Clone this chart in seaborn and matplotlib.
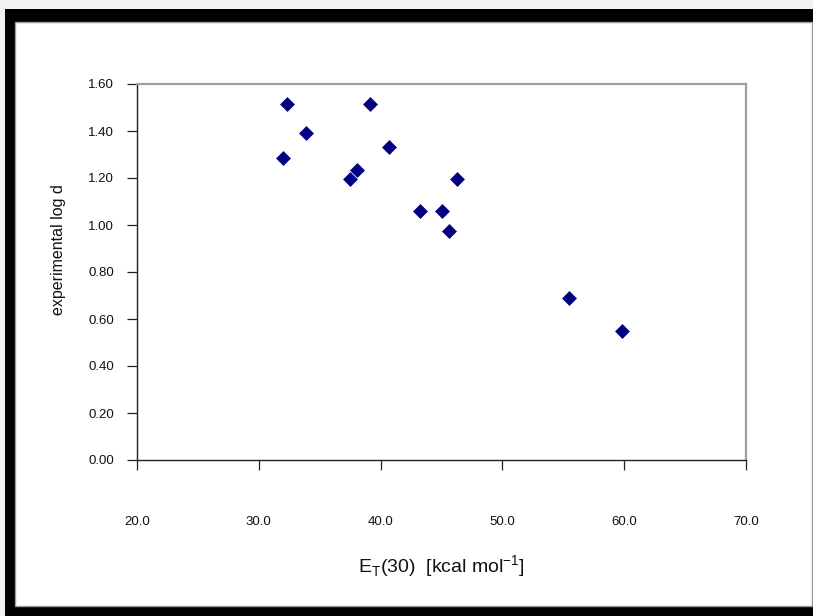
import matplotlib
matplotlib.use("Agg")
import matplotlib.pyplot as plt
import matplotlib.patches as mpatches
from matplotlib.ticker import FormatStrFormatter
import seaborn as sns
import pandas as pd

# data
et30 = [32.3, 39.15, 33.9, 32.0, 40.7, 38.05, 37.45, 46.3, 43.2, 45.05, 45.6, 55.5, 59.8]
logd = [1.515, 1.515, 1.39, 1.285, 1.33, 1.235, 1.195, 1.195, 1.06, 1.06, 0.975, 0.69, 0.55]
x_ticks = [20.0, 30.0, 40.0, 50.0, 60.0, 70.0]
y_ticks = [0.0, 0.2, 0.4, 0.6, 0.8, 1.0, 1.2, 1.4, 1.6]

sns.set_style("white")
plt.rcParams['font.family'] = ['Liberation Sans', 'DejaVu Sans']

W, H = 813, 616
fig = plt.figure(figsize=(W / 100, H / 100), dpi=100)
fig.patch.set_facecolor('#f1f1f1')

# black frame and white panel (pixel coords -> figure fraction)
def frac_rect(x0, y0, x1, y1, **kw):
    return mpatches.Rectangle((x0 / W, 1 - y1 / H), (x1 - x0) / W, (y1 - y0) / H,
                              transform=fig.transFigure, **kw)

fig.patches.append(frac_rect(5, 9, W + 5, H + 5, facecolor='black', edgecolor='none', zorder=0))
fig.patches.append(frac_rect(15, 22, W + 2, 606, facecolor='white', edgecolor='none', zorder=1))
fig.patches.append(frac_rect(15, 22, 812, 606, facecolor='none', edgecolor='#9a9a9a',
                             linewidth=1.0, zorder=1.5))

ax = fig.add_axes([137 / W, 1 - 460 / H, (746 - 137) / W, (460 - 84) / H])
ax.set_zorder(2)

df = pd.DataFrame({"ET30": et30, "logd": logd})
sns.scatterplot(data=df, x="ET30", y="logd", marker="D", s=50, color="#000080",
                edgecolor="#000080", linewidth=0.5, ax=ax, legend=False, clip_on=False)

ax.set_xlim(20, 70)
ax.set_ylim(0, 1.6)
ax.set_xticks(x_ticks)
ax.set_yticks(y_ticks)
ax.xaxis.set_major_formatter(FormatStrFormatter('%.1f'))
ax.yaxis.set_major_formatter(FormatStrFormatter('%.2f'))

for side in ['left', 'bottom']:
    ax.spines[side].set_color('#222222')
    ax.spines[side].set_linewidth(1.0)
    ax.spines[side].set_visible(True)
for side in ['top', 'right']:
    ax.spines[side].set_color('#a0a0a0')
    ax.spines[side].set_linewidth(1.6)
    ax.spines[side].set_visible(True)

ax.tick_params(axis='x', direction='out', length=7.5, width=0.9, color='#222222',
               pad=33, labelsize=9.5, labelcolor='#111111', bottom=True)
ax.tick_params(axis='y', direction='out', length=7.5, width=0.9, color='#222222',
               pad=9, labelsize=9.5, labelcolor='#111111', left=True)

ax.set_xlabel(r"E$_\mathregular{T}$(30)  [kcal mol$^\mathregular{-1}$]", fontsize=14,
              labelpad=18, color='#111111')
ax.set_ylabel("experimental log d", fontsize=11.5, color='#111111')
ax.yaxis.set_label_coords(-0.116, 0.56)

fig.savefig("out.png", dpi=100, facecolor=fig.get_facecolor())
